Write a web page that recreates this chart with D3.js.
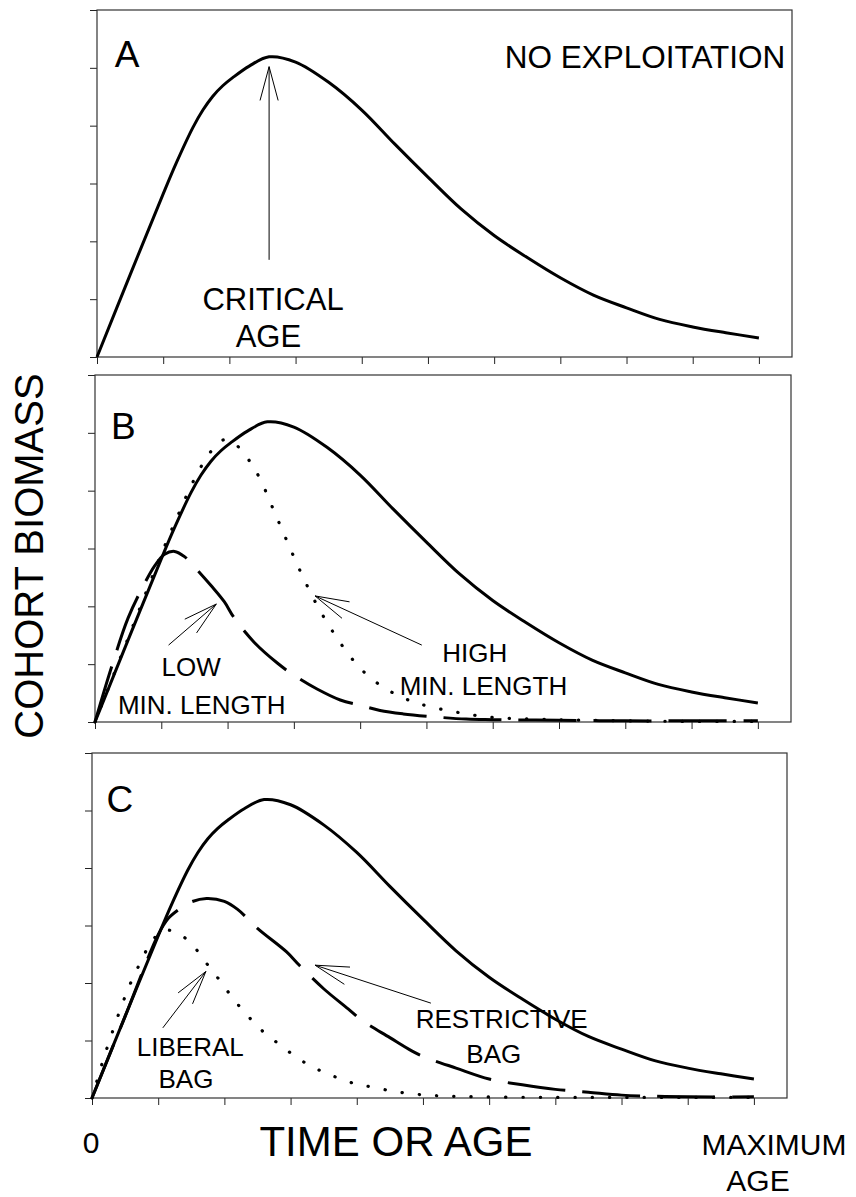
<!DOCTYPE html>
<html>
<head>
<meta charset="utf-8">
<style>
  body { margin: 0; background: #fff; }
  svg { font-family: "Liberation Sans", Arial, sans-serif; }
</style>
</head>
<body>
<svg id="svg" width="856" height="1197"></svg>
<script src="https://d3js.org/d3.v7.min.js"></script>
<script>

// ----------------------------------------------------------------------------
//                               DATA
// ----------------------------------------------------------------------------
// Tick positions (time units, biomass units).
var ageTicks     = [0, 1, 2, 3, 4, 5, 6, 7, 8, 9, 10];
var biomassTicks = [0, 1, 2, 3, 4, 5, 6];

// No exploitation (solid curve, same in every panel).
var baseAge     = [0, 0.5, 1.0, 1.2, 1.45, 1.6, 1.75, 1.9, 2.05, 2.3, 2.6, 3.0, 3.5, 4.0, 4.5,
                   5.0, 5.5, 6.0, 6.5, 7.0, 7.5, 8.0, 8.5, 9.0, 9.5, 10];
var baseBiomass = [0, 1.42, 2.82, 3.36, 3.97, 4.27, 4.51, 4.69, 4.83, 5.03, 5.19, 5.1, 4.75, 4.27, 3.68,
                   3.11, 2.56, 2.1, 1.72, 1.37, 1.07, 0.85, 0.65, 0.52, 0.42, 0.33];

// Panel B : high minimum length (dotted).
var highMinAge     = [0, 0.5, 1.0, 1.25, 1.5, 1.75, 1.95, 2.15, 2.35, 2.5, 2.7, 2.9, 3.1,
                      3.35, 3.6, 3.8, 4.0, 4.25, 4.5, 4.75, 5.0, 5.5, 6.0, 7, 8, 9, 10];
var highMinBiomass = [0, 1.45, 2.9, 3.57, 4.2, 4.68, 4.88, 4.77, 4.48, 4.18, 3.65, 3.12, 2.6,
                      2.02, 1.54, 1.21, 0.93, 0.68, 0.5, 0.37, 0.28, 0.16, 0.08, 0.04, 0.02, 0.01, 0.01];

// Panel B : low minimum length (dashed).
var lowMinAge     = [0, 0.25, 0.5, 0.75, 0.9, 1.05, 1.2, 1.35, 1.55, 1.75, 1.95, 2.1, 2.4,
                     2.75, 3.0, 3.35, 3.7, 4.0, 4.3, 4.65, 5.0, 5.6, 6, 7, 8, 9, 10];
var lowMinBiomass = [0, 0.95, 1.8, 2.4, 2.7, 2.9, 2.95, 2.86, 2.62, 2.36, 2.08, 1.8, 1.38,
                     1.02, 0.81, 0.57, 0.38, 0.29, 0.2, 0.14, 0.1, 0.05, 0.04, 0.03, 0.02, 0.02, 0.02];

// Panel C : restrictive bag (dashed).
var restrictAge     = [0, 0.5, 1.0, 1.15, 1.3, 1.5, 1.73, 2.0, 2.2, 2.5, 2.94, 3.14, 3.5,
                       3.87, 4.09, 4.5, 4.83, 5.03, 5.5, 6.0, 6.5, 7.0, 7.5, 8, 8.5, 9, 10];
var restrictBiomass = [0, 1.42, 2.84, 3.12, 3.27, 3.41, 3.47, 3.42, 3.28, 2.95, 2.54, 2.3, 1.9,
                       1.55, 1.34, 1.05, 0.82, 0.71, 0.52, 0.33, 0.23, 0.15, 0.1, 0.05, 0.03, 0.02, 0.02];

// Panel C : liberal bag (dotted).
var liberalAge     = [0, 0.21, 0.54, 0.75, 0.9, 1.1, 1.36, 1.6, 1.77, 1.96, 2.13, 2.33, 2.56,
                      2.81, 3.04, 3.28, 3.52, 3.76, 4.0, 4.24, 4.49, 4.71, 4.95, 5.2, 5.9, 7, 8, 9, 10];
var liberalBiomass = [0, 0.81, 1.88, 2.4, 2.72, 2.92, 2.82, 2.55, 2.28, 2.0, 1.73, 1.46, 1.18,
                      0.95, 0.75, 0.57, 0.44, 0.33, 0.24, 0.19, 0.13, 0.09, 0.06, 0.04, 0.02, 0.01, 0.01, 0.01, 0.01];

// ----------------------------------------------------------------------------
//                             FUNCTIONS
// ----------------------------------------------------------------------------
// Zip two arrays into points.
function zip(xs, ys) {
  return xs.map(function(d, i) { return [d, ys[i]]; });
}

// Draw one open-headed thin arrow, tail -> tip, in data units.
function drawArrow(g, x, y, a) {
  var x0 = x(a.t0), y0 = y(a.v0), x1 = x(a.t1), y1 = y(a.v1);
  var ang = Math.atan2(y0 - y1, x0 - x1), len = 35, spread = 15 * Math.PI / 180;
  var path = d3.path();
  path.moveTo(x0, y0); path.lineTo(x1, y1);
  path.moveTo(x1 + len * Math.cos(ang + spread), y1 + len * Math.sin(ang + spread));
  path.lineTo(x1, y1);
  path.lineTo(x1 + len * Math.cos(ang - spread), y1 + len * Math.sin(ang - spread));
  g.append("path")
      .attr("d", path.toString())
      .attr("fill", "none")
      .attr("stroke", "#000")
      .attr("stroke-width", 1);
}

// Line styles.
var styles = {
  solid:  { width: 3,   dash: null,     cap: "butt"  },
  dashed: { width: 3,   dash: "58,17",  cap: "butt"  },
  dotted: { width: 3.2, dash: "0.3,17", cap: "round" }
};

// Draw one panel.
function drawPanel(p) {
  var g = svg.append("g")
      .attr("transform", "translate(" + p.left + "," + p.top + ")");

  var x = d3.scaleLinear().domain([0, 10.5]).range([0, p.width]),
      y = d3.scaleLinear().domain([0, 6]).range([p.height, 0]);

  // Ticks.
  g.append("g")
      .attr("transform", "translate(0," + p.height + ")")
      .call(d3.axisBottom(x).tickValues(ageTicks).tickSize(7).tickSizeOuter(0).tickFormat(""))
      .call(function(s) { s.select(".domain").remove(); });
  g.append("g")
      .call(d3.axisLeft(y).tickValues(biomassTicks).tickSize(7).tickSizeOuter(0).tickFormat(""))
      .call(function(s) { s.select(".domain").remove(); });
  g.selectAll(".tick line").attr("stroke", "#222");

  // Frame.
  g.append("rect")
      .attr("width", p.width)
      .attr("height", p.height)
      .attr("fill", "none")
      .attr("stroke", "#333")
      .attr("stroke-width", 1.2);

  // Curves.
  var line = d3.line()
      .x(function(d) { return x(d[0]); })
      .y(function(d) { return y(d[1]); })
      .curve(d3.curveCatmullRom.alpha(0.5));

  p.series.forEach(function(s) {
    var st = styles[s.style];
    g.append("path")
        .datum(zip(s.age, s.biomass))
        .attr("d", line)
        .attr("fill", "none")
        .attr("stroke", "#000")
        .attr("stroke-width", st.width)
        .attr("stroke-linecap", st.cap)
        .attr("stroke-linejoin", "round")
        .attr("stroke-dasharray", st.dash);
  });

  // Arrows.
  p.arrows.forEach(function(a) { drawArrow(g, x, y, a); });

  // Labels.
  g.selectAll("text.note")
      .data(p.notes)
      .enter().append("text")
      .attr("class", "note")
      .attr("x", function(d) { return x(d.t); })
      .attr("y", function(d) { return y(d.v); })
      .attr("text-anchor", function(d) { return d.anchor || "middle"; })
      .attr("font-size", function(d) { return d.size; })
      .text(function(d) { return d.text; });

  return x;
}

// ----------------------------------------------------------------------------
//                              Create chart
// ----------------------------------------------------------------------------
var svg = d3.select("#svg");

var panels = [
  { left: 97, top: 10, width: 695, height: 347,
    series: [ { age: baseAge, biomass: baseBiomass, style: "solid" } ],
    arrows: [ { t0: 2.6, v0: 1.68, t1: 2.6, v1: 5.02 } ],
    notes: [
      { text: "A", t: 0.27, v: 5.02, size: 37, anchor: "start" },
      { text: "NO EXPLOITATION", t: 6.16, v: 5.0, size: 31.5, anchor: "start" },
      { text: "CRITICAL", t: 2.66, v: 0.82, size: 31 },
      { text: "AGE", t: 2.59, v: 0.18, size: 31 }
    ] },
  { left: 95, top: 375, width: 696, height: 347,
    series: [
      { age: baseAge, biomass: baseBiomass, style: "solid" },
      { age: highMinAge, biomass: highMinBiomass, style: "dotted" },
      { age: lowMinAge, biomass: lowMinBiomass, style: "dashed" }
    ],
    arrows: [
      { t0: 1.11, v0: 1.33, t1: 1.83, v1: 2.04 },
      { t0: 4.93, v0: 1.33, t1: 3.32, v1: 2.18 }
    ],
    notes: [
      { text: "B", t: 0.24, v: 4.89, size: 37, anchor: "start" },
      { text: "LOW", t: 1.45, v: 0.80, size: 26 },
      { text: "MIN. LENGTH", t: 1.61, v: 0.14, size: 26 },
      { text: "HIGH", t: 5.73, v: 1.04, size: 26 },
      { text: "MIN. LENGTH", t: 5.86, v: 0.47, size: 26 }
    ] },
  { left: 92, top: 753, width: 695, height: 345,
    series: [
      { age: baseAge, biomass: baseBiomass, style: "solid" },
      { age: restrictAge, biomass: restrictBiomass, style: "dashed" },
      { age: liberalAge, biomass: liberalBiomass, style: "dotted" }
    ],
    arrows: [
      { t0: 1.07, v0: 1.22, t1: 1.72, v1: 2.20 },
      { t0: 5.12, v0: 1.65, t1: 3.37, v1: 2.31 }
    ],
    notes: [
      { text: "C", t: 0.22, v: 4.98, size: 37, anchor: "start" },
      { text: "LIBERAL", t: 1.485, v: 0.73, size: 26 },
      { text: "BAG", t: 1.42, v: 0.17, size: 26 },
      { text: "RESTRICTIVE", t: 6.19, v: 1.21, size: 26 },
      { text: "BAG", t: 6.07, v: 0.61, size: 26 }
    ] }
];

var xs = panels.map(drawPanel);
var xC = xs[2], cLeft = panels[2].left;

// Axis titles.
svg.append("text")
    .attr("transform", "translate(43,556) rotate(-90)")
    .attr("text-anchor", "middle")
    .attr("font-size", 40)
    .text("COHORT BIOMASS");

svg.append("text")
    .attr("x", cLeft + xC(0) - 1)
    .attr("y", 1153)
    .attr("text-anchor", "middle")
    .attr("font-size", 30)
    .text("0");

svg.append("text")
    .attr("x", 396)
    .attr("y", 1156)
    .attr("text-anchor", "middle")
    .attr("font-size", 42)
    .text("TIME OR AGE");

svg.append("text")
    .attr("x", 774)
    .attr("y", 1155)
    .attr("text-anchor", "middle")
    .attr("font-size", 30)
    .text("MAXIMUM");

svg.append("text")
    .attr("x", 758)
    .attr("y", 1191)
    .attr("text-anchor", "middle")
    .attr("font-size", 30)
    .text("AGE");

</script>
</body>
</html>
